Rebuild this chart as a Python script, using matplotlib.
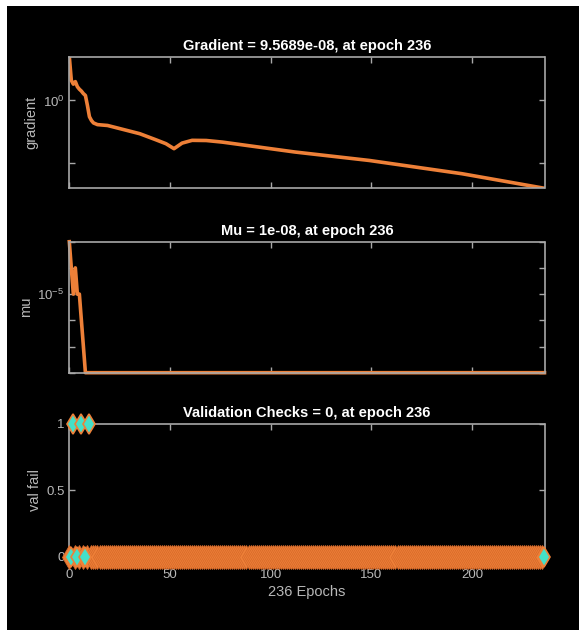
import matplotlib
matplotlib.use("Agg")
import matplotlib.pyplot as plt
from matplotlib.patches import Rectangle

plt.rcParams['font.family'] = ['Liberation Sans', 'DejaVu Sans']
plt.rcParams['mathtext.fontset'] = 'custom'
plt.rcParams['mathtext.rm'] = 'Liberation Sans'
plt.rcParams['mathtext.it'] = 'Liberation Sans'

# gradient
grad_epochs = [0, 1, 2, 3, 4, 5, 6, 7, 8, 9, 10, 11, 12, 14, 19, 35, 43, 48, 52, 56, 61, 68, 76, 112, 149, 195, 236]
grad_values = [3240, 40, 20, 32, 12.6, 7.9, 5.6, 3.5, 2.5, 0.4, 0.05, 0.025, 0.016, 0.0117, 0.01,
               2.2e-3, 7.2e-4, 3.5e-4, 1.4e-4, 3.9e-4, 6.5e-4, 6.3e-4, 4.7e-4, 7.6e-5, 1.6e-5, 1.4e-6, 9.5689e-08]

# mu
mu_epochs = [0, 1, 2, 3, 4, 5, 6, 7, 8, 236]
mu_values = [1e-3, 1e-4, 1e-5, 1e-4, 1e-5, 1e-5, 1e-6, 1e-7, 1e-8, 1e-8]

# validation checks
n_epochs = 236
fail_epochs = [2, 6, 10]
cyan_epochs = [1, 2, 4, 6, 8, 10, 236]

epochs = list(range(n_epochs + 1))
val_fail = [1 if e in fail_epochs else 0 for e in epochs]

ORANGE = '#ee8038'
CYAN = '#45e0c8'
SPINE = '#a8a8a8'
TXT = '#b8b8b8'

fig = plt.figure(figsize=(5.79, 6.30), dpi=100, facecolor='white')
fig.patches.append(Rectangle((7 / 579, 0), 1, 1 - 6 / 630, transform=fig.transFigure,
                             facecolor='black', edgecolor='none', zorder=-10))

left = 69.3 / 579
width = (544.5 - 69.3) / 579


def make_axes(top_px, bottom_px):
    ax = fig.add_axes([left, 1 - bottom_px / 630, width, (bottom_px - top_px) / 630])
    ax.set_facecolor('black')
    for s in ax.spines.values():
        s.set_color(SPINE)
        s.set_linewidth(1.2)
    ax.tick_params(which='both', direction='in', colors=SPINE, labelcolor=TXT, labelsize=9.5,
                   top=True, right=True, length=4, width=1)
    ax.tick_params(which='minor', length=0)
    ax.set_xlim(0, n_epochs)
    ax.set_xticks([0, 50, 100, 150, 200])
    return ax


ax1 = make_axes(56.5, 188.3)
ax1.semilogy(grad_epochs, grad_values, color=ORANGE, lw=2.6, solid_joinstyle='round')
ax1.set_ylim(9.5689e-08, 3240)
ax1.set_yticks([1e0, 1e-5])
ax1.set_yticklabels(['$10^{0}$', ''])
ax1.minorticks_off()
ax1.set_xticklabels([])
ax1.set_ylabel('gradient', color=TXT, fontsize=10.5, labelpad=3)
ax1.set_title('Gradient = 9.5689e-08, at epoch 236', color='white', fontsize=10.5,
              fontweight='bold', pad=5)

ax2 = make_axes(241.7, 372.7)
ax2.semilogy(mu_epochs, mu_values, color=ORANGE, lw=2.6, solid_joinstyle='round', clip_on=False)
ax2.set_ylim(1e-8, 1e-3)
ax2.set_yticks([1e-3, 1e-4, 1e-5, 1e-6, 1e-7, 1e-8])
ax2.set_yticklabels(['', '', '$10^{-5}$', '', '', ''])
ax2.minorticks_off()
ax2.set_xticklabels([])
ax2.set_ylabel('mu', color=TXT, fontsize=10.5, labelpad=3)
ax2.set_title('Mu = 1e-08, at epoch 236', color='white', fontsize=10.5,
              fontweight='bold', pad=5)

ax3 = make_axes(424, 556.7)
orange_x = [e for e in epochs if e not in cyan_epochs]
orange_y = [val_fail[e] for e in orange_x]
ax3.plot(orange_x, orange_y, ls='none', marker='d', ms=12, mfc=ORANGE, mec='#d86a2a',
         mew=0.6, clip_on=False, zorder=3)
cyan_y = [val_fail[e] for e in cyan_epochs]
ax3.plot(cyan_epochs, cyan_y, ls='none', marker='d', ms=10, mfc=CYAN, mec=ORANGE,
         mew=1.2, clip_on=False, zorder=4)
ax3.set_ylim(0, 1)
ax3.set_yticks([0, 0.5, 1])
ax3.set_yticklabels(['0', '0.5', '1'])
ax3.set_ylabel('val fail', color=TXT, fontsize=10.5, labelpad=3)
ax3.set_xlabel('236 Epochs', color=TXT, fontsize=10.5, labelpad=3)
ax3.tick_params(axis='x', pad=9)
ax3.set_title('Validation Checks = 0, at epoch 236', color='white', fontsize=10.5,
              fontweight='bold', pad=5)

fig.savefig('out.png', dpi=100, facecolor=fig.get_facecolor())
